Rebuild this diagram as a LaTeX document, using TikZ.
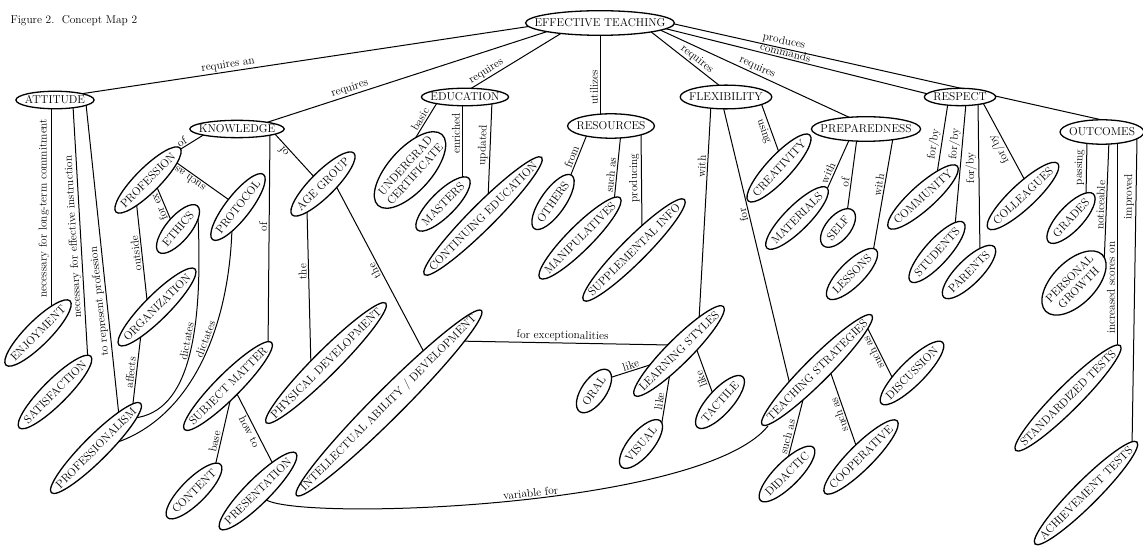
\documentclass[tikz,border=0pt]{standalone}
\usepackage{tikz}
\usetikzlibrary{shapes.geometric,calc,backgrounds}

\newcommand{\mapfont}{\fontsize{11.4}{13}\selectfont}

\tikzset{
  concept/.style={ellipse, draw, line width=1.3pt, fill=white, font=\mapfont,
    inner ysep=4.5pt,
    inner xsep={((\wd\pgfnodeparttextbox+18pt)/1.4142-\wd\pgfnodeparttextbox)/2}},
  slim/.style={inner ysep=2pt},
  conn/.style={line width=1pt},
  link/.style={font=\mapfont, sloped, allow upside down, inner sep=1.5pt}
}

\begin{document}
\begin{tikzpicture}[x=1pt, y=-1pt]
    \useasboundingbox (0,0) rectangle (1143,548);

    % Caption
    \node[anchor=base west, font=\mapfont] (cap) at (7,24) {Figure 2.\ \ Concept Map 2};

    % Main concept and first level
    \node[concept] (et) at (600,23) {EFFECTIVE TEACHING};
    \node[concept,slim] (att) at (55,100) {ATTITUDE};
    \node[concept,slim] (know) at (237,129) {KNOWLEDGE};
    \node[concept,slim] (edu) at (465,97) {EDUCATION};
    \node[concept] (res) at (611,126) {RESOURCES};
    \node[concept] (flex) at (726,97) {FLEXIBILITY};
    \node[concept] (prep) at (866,129) {PREPAREDNESS};
    \node[concept,slim] (resp) at (960,97) {RESPECT};
    \node[concept] (outc) at (1102,132) {OUTCOMES};

    % Attitude and knowledge branch
    \node[concept, rotate=45] (enj) at (38,333) {ENJOYMENT};
    \node[concept, rotate=45] (sat) at (55,392) {SATISFACTION};
    \node[concept, rotate=45] (pism) at (96,448) {PROFESSIONALISM};
    \node[concept, rotate=45] (prof) at (148,180) {PROFESSION};
    \node[concept, rotate=50] (ethics) at (178,229) {ETHICS};
    \node[concept, rotate=52] (proto) at (238,207) {PROTOCOL};
    \node[concept, rotate=45] (org) at (157,307) {ORGANIZATION};
    \node[concept, rotate=45] (age) at (323,184) {AGE GROUP};
    \node[concept, rotate=45] (subj) at (228,386) {SUBJECT MATTER};
    \node[concept, rotate=45] (cont) at (194,491) {CONTENT};
    \node[concept, rotate=45] (pres) at (258,491) {PRESENTATION};
    \node[concept, rotate=45] (phys) at (326,363) {PHYSICAL DEVELOPMENT};
    \node[concept, rotate=45] (intel) at (389,403) {INTELLECTUAL ABILITY / DEVELOPMENT};

    % Education and resources
    \node[concept, rotate=48, align=center] (ugrad) at (410,170) {UNDERGRAD\\CERTIFICATE};
    \node[concept, rotate=45] (mast) at (443,204) {MASTERS};
    \node[concept, rotate=45] (cedu) at (483,216) {CONTINUING EDUCATION};
    \node[concept, rotate=55] (oth) at (553,202) {OTHERS};
    \node[concept, rotate=45] (manip) at (580,238) {MANIPULATIVES};
    \node[concept, rotate=45] (supp) at (634,250) {SUPPLEMENTAL INFO};

    % Flexibility and preparedness
    \node[concept, rotate=47] (creat) at (779,168) {CREATIVITY};
    \node[concept, rotate=45] (mat) at (797,218) {MATERIALS};
    \node[concept, rotate=50] (self) at (838,228) {SELF};
    \node[concept, rotate=45] (less) at (852,274) {LESSONS};
    \node[concept, rotate=45] (learn) at (679,351) {LEARNING STYLES};
    \node[concept, rotate=55] (oral) at (594,391) {ORAL};
    \node[concept, rotate=50] (vis) at (641,444) {VISUAL};
    \node[concept, rotate=48] (tact) at (720,402) {TACTILE};
    \node[concept, rotate=45] (teach) at (817,370) {TEACHING STRATEGIES};
    \node[concept, rotate=45] (disc) at (912,373) {DISCUSSION};
    \node[concept, rotate=45] (did) at (787,474) {DIDACTIC};
    \node[concept, rotate=45] (coop) at (861,457) {COOPERATIVE};

    % Respect and outcomes
    \node[concept, rotate=42] (comm) at (923,197) {COMMUNITY};
    \node[concept, rotate=48] (stud) at (937,252) {STUDENTS};
    \node[concept, rotate=45] (par) at (969,272) {PARENTS};
    \node[concept, rotate=43] (coll) at (1023,196) {COLLEAGUES};
    \node[concept, rotate=47] (grad) at (1071,218) {GRADES};
    \node[concept, rotate=45, align=center] (pers) at (1074,283) {PERSONAL\\GROWTH};
    \node[concept, rotate=45] (stand) at (1068,398) {STANDARDIZED TESTS};
    \node[concept, rotate=45] (ach) at (1086,493) {ACHIEVEMENT TESTS};

    \begin{scope}[on background layer]
    % From the main concept
    \draw[conn] ($(att)+(25,-6)$) -- ($(et)+(-68,3)$) node[link,above,pos=.33] {requires an};
    \draw[conn] ($(know)+(25,-5)$) -- ($(et)+(-48,7)$) node[link,above,pos=.31] {requires};
    \draw[conn] ($(edu)+(-3,-3)$) -- ($(et)+(-35,8)$) node[link,above,pos=.27] {requires};
    \draw[conn] ($(res)+(-11,-8)$) -- ($(et)+(0,10)$) node[link,above,pos=.36] {utilizes};
    \draw[conn] ($(et)+(50,8)$) -- ($(flex)+(-6,-11)$) node[link,above,pos=.61] {requires};
    \draw[conn] ($(et)+(58,6)$) -- ($(prep)+(-11,-9)$) node[link,above,pos=.49] {requires};
    \draw[conn] ($(et)+(63,5)$) -- ($(resp)+(-28,-2)$) node[link,above,pos=.45] {commands};
    \draw[conn] ($(et)+(70,0)$) -- ($(outc)+(18,-8)$) node[link,above,pos=.25] {produces};

    % Attitude
    \draw[conn] ($(enj)+(13,-23)$) -- ($(att)+(-4,6)$) node[link,above,pos=.5] {necessary for long-term commitment};
    \draw[conn] ($(sat)+(33,-30)$) -- ($(att)+(18,6)$) node[link,above,pos=.49] {necessary for effective instruction};
    \draw[conn] ($(pism)+(23,-32)$) -- ($(att)+(31,4)$) node[link,above,pos=.37] {to represent profession};

    % Knowledge
    \draw[conn] ($(prof)+(28,-28)$) -- ($(know)+(-32,5)$) node[link,above,pos=.3] {of};
    \draw[conn] ($(subj)+(40,-34)$) -- ($(know)+(33,3)$) node[link,above,pos=.57] {of};
    \draw[conn] ($(age)+(-7,-5)$) -- ($(know)+(37,4)$) node[link,above,pos=.67] {of};
    \draw[conn] ($(proto)+(-6,-5)$) -- ($(prof)+(29,-17)$) node[link,above,pos=.71] {such as};
    \draw[conn] ($(ethics)+(-5,-4)$) -- ($(prof)+(8,5)$) node[link,above,pos=.5] {for ex};
    \draw[conn] ($(org)+(-10,-7)$) -- ($(prof)+(-12,19)$) node[link,above,pos=.47] {outside};
    \draw[conn] ($(pism)+(36,-36)$) -- ($(org)+(-16,27)$) node[link,above,pos=.5] {affects};
    \draw[conn] ($(pism)+(38,-30)$) .. controls (190,412) and (203,330) .. ($(ethics)+(20,-12)$) node[link,above,pos=.57] {dictates};
    \draw[conn] ($(pism)+(16,-4)$) .. controls (190,420) and (229,330) .. ($(proto)+(-6,21)$) node[link,above,pos=.6] {dictates};
    \draw[conn] ($(cont)+(20,-20)$) -- ($(subj)+(3,11)$) node[link,above,pos=.38] {base};
    \draw[conn] ($(subj)+(8,6)$) -- ($(pres)+(16,-25)$) node[link,below,pos=.5] {how to};
    \draw[conn] ($(phys)+(-15,5)$) -- ($(age)+(-16,26)$) node[link,above,pos=.61] {the};
    \draw[conn] ($(intel)+(36,-49)$) -- ($(age)+(13,2)$) node[link,above,pos=.51] {the};
    \draw[conn] ($(intel)+(66,-62)$) -- ($(learn)+(-9,-6)$) node[link,above,pos=.5] {for exceptionalities};
    \draw[conn] ($(pres)+(6,7)$) .. controls (280,522) and (700,510) .. ($(teach)+(-49,56)$) node[link,above,pos=.55] {variable for};

    % Education
    \draw[conn] ($(ugrad)+(3,-28)$) -- ($(edu)+(-25,1)$) node[link,above,pos=.45] {basic};
    \draw[conn] ($(mast)+(19,-22)$) -- ($(edu)+(-3,3)$) node[link,above,pos=.59] {enriched};
    \draw[conn] ($(cedu)+(5,-16)$) -- ($(edu)+(27,4)$) node[link,above,pos=.55] {updated};

    % Resources
    \draw[conn] ($(oth)+(15,-20)$) -- ($(res)+(-23,6)$) node[link,above,pos=.46] {from};
    \draw[conn] ($(manip)+(34,-36)$) -- ($(res)+(10,6)$) node[link,above,pos=.38] {such as};
    \draw[conn] ($(supp)+(8,-22)$) -- ($(res)+(30,6)$) node[link,above,pos=.52] {producing};

    % Flexibility
    \draw[conn] ($(learn)+(20,-31)$) -- ($(flex)+(-15,7)$) node[link,above,pos=.71] {with};
    \draw[conn] ($(teach)+(-26,19)$) -- ($(flex)+(-3,9)$) node[link,above,pos=.62] {for};
    \draw[conn] ($(flex)+(34,3)$) -- ($(creat)+(2,-10)$) node[link,below,pos=.5] {using};
    \draw[conn] ($(oral)+(15,-13)$) -- ($(learn)+(-23,12)$) node[link,above,pos=.5] {like};
    \draw[conn] ($(vis)+(20,-16)$) -- ($(learn)+(-9,22)$) node[link,above,pos=.47] {like};
    \draw[conn] ($(tact)+(-6,-5)$) -- ($(learn)+(16,-6)$) node[link,above,pos=.38] {like};
    \draw[conn] ($(disc)+(-19,6)$) -- ($(teach)+(50,-43)$) node[link,above,pos=.56] {such as};
    \draw[conn] ($(did)+(-1,-8)$) -- ($(teach)+(-13,26)$) node[link,above,pos=.4] {such as};
    \draw[conn] ($(coop)+(-3,-6)$) -- ($(teach)+(12,-2)$) node[link,above,pos=.46] {such as};

    % Preparedness
    \draw[conn] ($(mat)+(27,-22)$) -- ($(prep)+(-16,9)$) node[link,above,pos=.36] {with};
    \draw[conn] ($(self)+(9,-15)$) -- ($(prep)+(-9,9)$) node[link,above,pos=.4] {of};
    \draw[conn] ($(less)+(21,-22)$) -- ($(prep)+(27,9)$) node[link,above,pos=.58] {with};

    % Respect
    \draw[conn] ($(comm)+(13,-17)$) -- ($(resp)+(-12,6)$) node[link,above,pos=.45] {for/by};
    \draw[conn] ($(stud)+(18,-26)$) -- ($(resp)+(6,6)$) node[link,above,pos=.66] {for/by};
    \draw[conn] ($(par)+(11,-18)$) -- ($(resp)+(18,6)$) node[link,above,pos=.57] {for/by};
    \draw[conn] ($(coll)+(5,-10)$) -- ($(resp)+(22,4)$) node[link,above,pos=.48] {for/by};

    % Outcomes
    \draw[conn] ($(grad)+(15,-21)$) -- ($(outc)+(-15,8)$) node[link,above,pos=.52] {passing};
    \draw[conn] ($(pers)+(30,-17)$) -- ($(outc)+(7,8)$) node[link,above,pos=.48] {noticeable};
    \draw[conn] ($(stand)+(49,-47)$) -- ($(outc)+(15,8)$) node[link,above,pos=.3] {increased scores on};
    \draw[conn] ($(ach)+(46,-46)$) -- ($(outc)+(35,6)$) node[link,above,pos=.81] {improved};
    \end{scope}
\end{tikzpicture}
\end{document}
